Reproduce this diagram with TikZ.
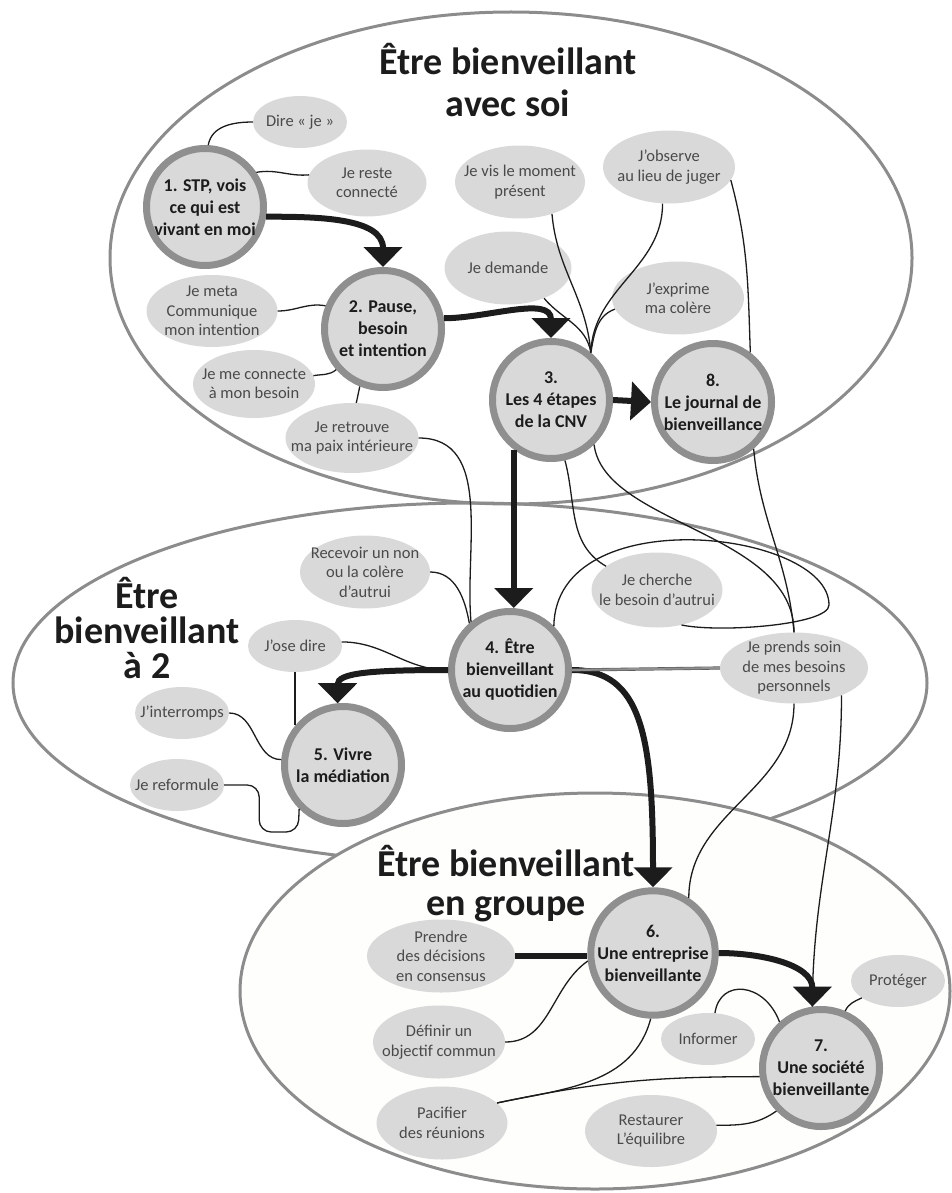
\documentclass[tikz,border=0pt]{standalone}
\usepackage{fontspec}
\setmainfont{Carlito}
\usepackage{xcolor}
\usepackage{tikz}
\usetikzlibrary{arrows.meta,shapes.geometric}

\definecolor{zonegray}{HTML}{8C8C8C}
\definecolor{ringgray}{HTML}{8F8F8F}
\definecolor{fillgray}{HTML}{D9D9D9}
\definecolor{inkdark}{HTML}{1C1C1C}
\definecolor{inkgray}{HTML}{4A4A4A}
\definecolor{groupfill}{HTML}{FEFEFC}

\begin{document}
\begin{tikzpicture}[x=1pt,y=-1pt,
  zone/.style={draw=zonegray, line width=3pt},
  zonetitle/.style={align=center, text=inkdark, font=\fontsize{38}{42}\selectfont\bfseries},
  stage/.style={circle, draw=ringgray, line width=7pt, fill=fillgray, minimum size=117pt, inner sep=0pt, align=center, text=inkdark, font=\fontsize{18}{22}\selectfont\bfseries},
  idea/.style={ellipse, fill=fillgray, inner xsep=-14pt, inner ysep=-6pt, minimum width=131pt, minimum height=73pt, align=center, text=inkgray, font=\fontsize{16.5}{19.5}\selectfont},
  smallidea/.style={idea, minimum width=94pt, minimum height=52pt},
  flow/.style={draw=inkdark, line width=6pt, -{Triangle[width=38pt,length=20pt]}},
  bar/.style={draw=inkdark, line width=6pt},
  link/.style={draw=inkdark, line width=1.3pt},
  tie/.style={draw=black!65, line width=0.6pt, double=ringgray, double distance=2pt}]
  \useasboundingbox (0,0) rectangle (951,1193);

  \draw[zone] (511,258) ellipse [x radius=401pt, y radius=246pt];
  \draw[zone] (470,683) ellipse [x radius=457pt, y radius=180pt];
  \draw[zone, fill=groupfill] (595,991) ellipse [x radius=355pt, y radius=198pt];

  \node[zonetitle] (soititle) at (508,80) {Être bienveillant\\avec soi};
  \node[zonetitle, font=\fontsize{38}{35}\selectfont\bfseries] (deuxtitle) at (147,628) {Être\\bienveillant\\à 2};
  \node[zonetitle, font=\fontsize{38}{39}\selectfont\bfseries] (groupetitle) at (506,884) {Être bienveillant\\en groupe};

  \node[stage] (stp) at (205,207) {1. STP, vois\\ce qui est\\vivant en moi};
  \node[stage] (pause) at (383,329) {2. Pause,\\besoin\\et intention};
  \node[stage] (cnv) at (551,400) {3.\\Les 4 étapes\\de la CNV};
  \node[stage] (journal) at (713,402) {8.\\Le journal de\\bienveillance};
  \node[stage] (quotidien) at (510,670) {4. Être\\bienveillant\\au quotidien};
  \node[stage] (mediation) at (343,765) {5. Vivre\\la médiation};
  \node[stage] (entreprise) at (653,953) {6.\\Une entreprise\\bienveillante};
  \node[stage] (societe) at (821,1068) {7.\\Une société\\bienveillante};

  \node[smallidea] (dire) at (300,122) {Dire «~je~»};
  \node[idea, minimum width=119pt, minimum height=67pt] (reste) at (367,183) {Je reste\\connecté};
  \node[idea, minimum height=72pt] (meta) at (212,311) {Je meta\\Communique\\mon intention};
  \node[idea, minimum width=122pt, minimum height=68pt] (connecte) at (254,384) {Je me connecte\\à mon besoin};
  \node[idea, minimum height=70pt] (retrouve) at (352,438) {Je retrouve\\ma paix intérieure};
  \node[idea, minimum width=130pt] (vis) at (520,182) {Je vis le moment\\présent};
  \node[idea, minimum width=132pt] (observe) at (669,167) {J'observe\\au lieu de juger};
  \node[idea, minimum width=127pt] (demande) at (508,268) {Je demande};
  \node[idea, minimum width=132pt] (exprime) at (678,298) {J'exprime\\ma colère};
  \node[idea, minimum width=130pt] (recevoir) at (365,572) {Recevoir un non\\ou la colère\\d'autrui};
  \node[smallidea] (josedire) at (295,646) {J'ose dire};
  \node[smallidea] (interromps) at (182,713) {J'interromps};
  \node[smallidea] (reformule) at (177,785) {Je reformule};
  \node[idea, minimum height=75pt] (cherche) at (657,590) {Je cherche\\le besoin d'autrui};
  \node[idea, minimum width=148pt, minimum height=71pt] (soin) at (794,668) {Je prends soin\\de mes besoins\\personnels};
  \node[idea, minimum width=148pt] (decisions) at (441,956) {Prendre\\des décisions\\en consensus};
  \node[idea, minimum width=132pt] (objectif) at (439,1042) {Définir un\\objectif commun};
  \node[idea] (reunions) at (442,1123) {Pacifier\\des réunions};
  \node[smallidea] (informer) at (708,1039) {Informer};
  \node[smallidea] (proteger) at (898,981) {Protéger};
  \node[idea, minimum width=132pt, minimum height=72pt] (equilibre) at (651,1131) {Restaurer\\L'équilibre};
  \coordinate (loopturn) at (829,605);

  \draw[flow] (stp.-9) to[out=0,in=90] (pause.north);
  \draw[flow] (pause.10) to[out=0,in=90] (cnv.north);
  \draw[flow] (cnv.east) -- (journal.west);
  \draw[flow] (cnv.233) -- (cnv.233 |- quotidien.north);
  \draw[flow] (quotidien.west) .. controls +(-80,0) and +(0,-30) .. (mediation.95);
  \draw[flow] (quotidien.east) .. controls +(70,0) and +(0,-150) .. (entreprise.north);
  \draw[flow] (entreprise.east) to[out=0,in=90] (societe.98);
  \draw[bar] (decisions.east) -- (decisions.east -| entreprise.west);

  \draw[link] (dire.west) to[out=180,in=80] (stp.87);
  \draw[link] (stp.34) to[out=10,in=185] (reste.172);
  \draw[link] (meta.east) to[out=0,in=170] (pause.158);
  \draw[link] (connecte.8) to[out=10,in=220] (pause.221);
  \draw[link] (pause.248) -- (retrouve.83);
  \draw[link] (retrouve.east) to[out=0,in=95] (quotidien.129);
  \draw[link] (recevoir.east) to[out=0,in=100] (quotidien.131);
  \draw[link] (josedire.5) to[out=0,in=180] (quotidien.west);
  \draw[link] (josedire.south) -- (josedire.south |- mediation.140);
  \draw[link] (interromps.east) to[out=0,in=180] (mediation.175);
  \draw[link, rounded corners=12pt] (reformule.east) -- ++(35,0) -- ++(0,47) -- ++(39,0) -- (mediation.225);

  \draw[link] (vis.-45) to[out=-85,in=95] (cnv.50);
  \draw[link] (observe.-100) to[out=-90,in=88] (cnv.50);
  \draw[link] (demande.-40) to[out=-50,in=100] (cnv.50);
  \draw[link] (exprime.190) to[out=200,in=80] (cnv.50);
  \draw[link] (observe.-12) to[out=-75,in=92] (journal.53);

  \draw[link] (cnv.-77) to[out=-75,in=150] (cherche.155);
  \draw[link] (cnv.-46) .. controls +(10,80) and +(0,-100) .. (soin.north);
  \draw[link] (journal.-49) to[out=-85,in=95] (soin.north);
  \draw[link] (quotidien.45) .. controls +(2,-127) and +(0,-75) .. (loopturn) .. controls +(0,20) and +(38,8) .. (cherche.-55);
  \draw[tie] (quotidien.east) -- (soin.west);
  \draw[link] (soin.south) to[out=-90,in=90] (entreprise.57);
  \draw[link] (soin.-30) to[out=-90,in=90] (societe.98);

  \draw[link] (objectif.east) to[out=0,in=215] (entreprise.187);
  \draw[link] (reunions.20) to[out=12,in=-105] (entreprise.-92);
  \draw[link] (reunions.20) to[out=12,in=180] (societe.188);
  \draw[link] (informer.75) .. controls +(5,-35) and +(-15,-40) .. (societe.132);
  \draw[link] (proteger.205) to[out=205,in=65] (societe.67);
  \draw[link] (equilibre.5) to[out=0,in=215] (societe.224);
\end{tikzpicture}
\end{document}
